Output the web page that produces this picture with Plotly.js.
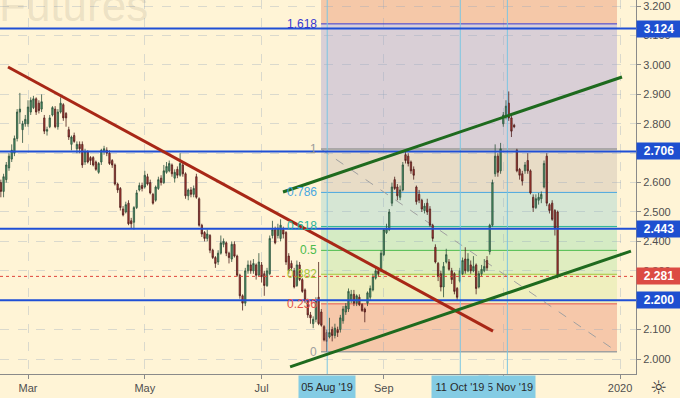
<!DOCTYPE html>
<html><head><meta charset="utf-8">
<script src="https://cdn.plot.ly/plotly-3.0.1.min.js"></script>
<style>html,body{margin:0;padding:0;background:#fff4d6;}#chart{width:680px;height:398px;}</style>
</head><body><div id="chart"></div>
<script>
// ---- data (daily candles, weekdays starting at startDate) ----
const startDate = '2019-02-15';
const opens = [
2.60,2.57,2.61,2.65,2.68,2.70,2.75,2.84,2.78,2.80,
2.80,2.84,2.855,2.885,2.87,2.85,2.82,2.775,2.79,2.83,
2.85,2.79,2.84,2.865,2.835,2.78,2.73,2.76,2.715,2.73,
2.73,2.67,2.705,2.685,2.685,2.67,2.635,2.67,2.705,2.71,
2.70,2.675,2.66,2.595,2.58,2.51,2.50,2.53,2.47,2.465,
2.515,2.575,2.59,2.585,2.62,2.60,2.56,2.54,2.58,2.615,
2.60,2.635,2.64,2.66,2.615,2.645,2.625,2.66,2.63,2.555,
2.575,2.56,2.62,2.545,2.455,2.43,2.41,2.42,2.37,2.345,
2.33,2.36,2.39,2.395,2.36,2.34,2.39,2.35,2.285,2.215,
2.19,2.30,2.32,2.30,2.32,2.285,2.32,2.29,2.25,2.29,
2.42,2.44,2.42,2.41,2.44,2.43,2.35,2.325,2.30,2.25,
2.32,2.27,2.235,2.20,2.15,2.12,2.135,2.21,2.16,2.11,
2.09,2.075,2.10,2.08,2.10,2.10,2.13,2.16,2.17,2.20,
2.22,2.19,2.21,2.185,2.17,2.19,2.21,2.235,2.275,2.30,
2.30,2.355,2.43,2.44,2.53,2.61,2.585,2.55,2.575,2.695,
2.69,2.67,2.645,2.585,2.56,2.54,2.505,2.53,2.51,2.455,
2.38,2.325,2.29,2.245,2.33,2.33,2.30,2.29,2.24,2.265,
2.29,2.34,2.30,2.32,2.30,2.32,2.245,2.29,2.30,2.335,
2.365,2.455,2.63,2.69,2.64,2.80,2.825,2.87,2.82,2.795,
2.71,2.645,2.63,2.64,2.675,2.64,2.55,2.515,2.54,2.545,
2.585,2.69,2.525,2.53,2.505,2.50];
const highs = [
2.61,2.63,2.67,2.70,2.73,2.76,2.85,2.905,2.81,2.83,
2.88,2.89,2.895,2.89,2.88,2.90,2.83,2.79,2.83,2.86,
2.86,2.85,2.89,2.87,2.84,2.79,2.76,2.77,2.74,2.74,
2.74,2.715,2.71,2.69,2.69,2.675,2.67,2.715,2.725,2.72,
2.71,2.68,2.665,2.60,2.585,2.52,2.535,2.54,2.48,2.52,
2.575,2.60,2.60,2.64,2.63,2.61,2.565,2.59,2.62,2.625,
2.66,2.67,2.675,2.665,2.645,2.655,2.70,2.67,2.635,2.58,
2.585,2.59,2.63,2.55,2.46,2.435,2.44,2.425,2.375,2.35,
2.37,2.42,2.41,2.40,2.365,2.40,2.40,2.355,2.29,2.22,
2.31,2.335,2.335,2.34,2.325,2.36,2.33,2.30,2.31,2.42,
2.47,2.45,2.46,2.475,2.45,2.435,2.36,2.335,2.31,2.335,
2.33,2.275,2.24,2.205,2.16,2.145,2.21,2.33,2.17,2.115,
2.10,2.14,2.11,2.12,2.11,2.15,2.18,2.19,2.24,2.235,
2.235,2.22,2.22,2.19,2.175,2.23,2.25,2.29,2.31,2.31,
2.37,2.445,2.46,2.51,2.60,2.62,2.595,2.59,2.67,2.71,
2.70,2.675,2.655,2.59,2.575,2.545,2.53,2.545,2.52,2.46,
2.39,2.33,2.30,2.33,2.375,2.34,2.31,2.295,2.245,2.31,
2.345,2.38,2.36,2.335,2.35,2.325,2.30,2.32,2.34,2.35,
2.46,2.61,2.73,2.70,2.735,2.84,2.88,2.91,2.83,2.80,
2.715,2.65,2.64,2.67,2.70,2.645,2.56,2.56,2.565,2.57,
2.675,2.70,2.53,2.54,2.51,2.505];
const lows = [
2.55,2.55,2.60,2.64,2.67,2.69,2.74,2.80,2.735,2.79,
2.79,2.83,2.85,2.83,2.835,2.84,2.765,2.76,2.785,2.825,
2.785,2.78,2.835,2.81,2.79,2.745,2.71,2.735,2.70,2.70,
2.65,2.66,2.665,2.66,2.655,2.64,2.63,2.66,2.695,2.69,
2.66,2.65,2.59,2.565,2.505,2.485,2.495,2.455,2.445,2.44,
2.51,2.57,2.57,2.58,2.59,2.56,2.525,2.535,2.575,2.59,
2.595,2.63,2.635,2.62,2.60,2.615,2.62,2.62,2.545,2.54,
2.55,2.55,2.545,2.45,2.415,2.40,2.40,2.36,2.34,2.31,
2.32,2.355,2.38,2.35,2.325,2.33,2.345,2.28,2.205,2.165,
2.18,2.29,2.29,2.29,2.27,2.28,2.26,2.215,2.245,2.285,
2.41,2.39,2.41,2.40,2.41,2.32,2.29,2.30,2.24,2.245,
2.265,2.225,2.19,2.14,2.12,2.105,2.125,2.115,2.11,2.06,
2.025,2.07,2.06,2.07,2.075,2.09,2.12,2.15,2.16,2.19,
2.18,2.18,2.18,2.16,2.125,2.18,2.20,2.23,2.27,2.28,
2.295,2.35,2.425,2.435,2.52,2.575,2.54,2.54,2.57,2.665,
2.655,2.63,2.61,2.525,2.53,2.50,2.495,2.49,2.45,2.40,
2.325,2.265,2.23,2.21,2.325,2.30,2.255,2.22,2.20,2.26,
2.285,2.29,2.295,2.29,2.295,2.22,2.24,2.28,2.295,2.30,
2.355,2.45,2.62,2.62,2.63,2.79,2.815,2.81,2.755,2.785,
2.635,2.61,2.59,2.63,2.63,2.56,2.50,2.51,2.525,2.53,
2.58,2.52,2.495,2.47,2.42,2.275];
const closes = [
2.57,2.62,2.66,2.69,2.71,2.75,2.84,2.85,2.80,2.815,
2.857,2.88,2.885,2.84,2.845,2.875,2.775,2.78,2.82,2.855,
2.79,2.84,2.87,2.82,2.82,2.755,2.755,2.74,2.73,2.715,
2.66,2.705,2.67,2.675,2.66,2.645,2.665,2.71,2.715,2.70,
2.665,2.66,2.595,2.575,2.515,2.49,2.525,2.46,2.46,2.515,
2.565,2.59,2.58,2.625,2.595,2.565,2.53,2.585,2.61,2.60,
2.64,2.655,2.665,2.63,2.635,2.625,2.665,2.63,2.555,2.575,
2.56,2.58,2.55,2.455,2.425,2.41,2.425,2.37,2.345,2.325,
2.36,2.395,2.40,2.36,2.345,2.39,2.35,2.285,2.215,2.19,
2.30,2.32,2.30,2.325,2.285,2.33,2.28,2.25,2.30,2.41,
2.44,2.395,2.445,2.455,2.425,2.33,2.30,2.31,2.245,2.32,
2.27,2.23,2.20,2.15,2.14,2.135,2.20,2.12,2.115,2.065,
2.06,2.09,2.08,2.105,2.09,2.14,2.17,2.18,2.23,2.22,
2.19,2.215,2.185,2.165,2.16,2.225,2.24,2.28,2.30,2.29,
2.36,2.44,2.445,2.50,2.585,2.58,2.555,2.575,2.66,2.675,
2.665,2.64,2.625,2.535,2.54,2.51,2.52,2.50,2.455,2.41,
2.33,2.28,2.245,2.315,2.355,2.305,2.27,2.23,2.21,2.30,
2.335,2.30,2.34,2.30,2.315,2.24,2.29,2.305,2.315,2.31,
2.455,2.60,2.69,2.635,2.715,2.83,2.86,2.82,2.775,2.79,
2.64,2.625,2.605,2.66,2.64,2.565,2.515,2.545,2.55,2.56,
2.665,2.53,2.505,2.475,2.445,2.281];

const tickDates  = ['2019-03-01','2019-05-01','2019-07-01','2019-09-02','2019-11-01','2020-01-01'];
const tickLabels = ['Mar','May','Jul','Sep','Nov','2020'];
const levelPrices = [3.124, 2.706, 2.443, 2.200];
const lastPrice = 2.281;
const fibRatios = [0, 0.236, 0.382, 0.5, 0.618, 0.786, 1, 1.618, 2.618];
const fibNames  = ['0','0.236','0.382','0.5','0.618','0.786','1','1.618','2.618'];
const fibLow = 2.025, fibHigh = 2.714;
const fibStart = '2019-07-30 21:30', fibEnd = '2019-12-30 21:00';
const markDates  = ['2019-08-04 04:00','2019-10-10 04:00','2019-11-04 12:00'];
const markLabels = ["05 Aug '19","11 Oct '19","05 Nov '19"];
const redTrend   = {x:['2019-02-19 15:20','2019-10-28 05:00'], y:[2.993, 2.095]};
const greenUpper = {x:['2019-07-10 21:30','2020-01-01 17:00'], y:[2.568, 2.959]};
const greenLower = {x:['2019-07-15 12:00','2020-01-07 00:00'], y:[1.973, 2.367]};

// ---- styles ----
const BG = '#fff4d6';
const fibLineColors = ['#a0a0a0','#e5534b','#a5c83c','#4cbb4c','#2bb39a','#4aa8e0','#9a9a9a','#3838d0','#e5534b'];
const fibFillColors = ['#f6c8aa','#efefbe','#dfedc0','#d5ebc4','#d6e6d4','#e8dcc6','#d9cfd6','#f5c8a8'];

function weekdayDates(start, n){
  const out=[]; const d=new Date(start+'T00:00:00Z');
  while(out.length<n){const w=d.getUTCDay(); if(w!==0&&w!==6) out.push(d.toISOString().slice(0,10)); d.setUTCDate(d.getUTCDate()+1);}
  return out;
}
const dates = weekdayDates(startDate, closes.length);

const trace = {
  type:'candlestick', x:dates, open:opens, high:highs, low:lows, close:closes,
  increasing:{line:{color:'#2d513c', width:0.8}, fillcolor:'#4a9a6a'},
  decreasing:{line:{color:'#4e1e1c', width:0.8}, fillcolor:'#b83a34'},
  whiskerwidth:0, hoverinfo:'skip', showlegend:false
};

const shapes = [];
const annotations = [];
const fibPrice = r => fibLow + r*(fibHigh-fibLow);
for(let k=0;k<fibRatios.length-1;k++){
  shapes.push({type:'rect', layer:'below', xref:'x', yref:'y', x0:fibStart, x1:fibEnd,
    y0:fibPrice(fibRatios[k]), y1:fibPrice(fibRatios[k+1]), fillcolor:fibFillColors[k], line:{width:0}});
}
for(let k=0;k<fibRatios.length;k++){
  const p = fibPrice(fibRatios[k]);
  shapes.push({type:'line', layer:'between', x0:fibStart, x1:fibEnd, y0:p, y1:p,
    line:{color:fibLineColors[k], width: (fibRatios[k]===1||fibRatios[k]===0)?1.5:1}});
  if(p < 3.22) annotations.push({xref:'x', yref:'y', x:fibStart, y:p, text:fibNames[k], showarrow:false,
    xanchor:'right', yanchor:'middle', xshift:-2, font:{family:'Liberation Sans', size:12, color:fibLineColors[k]}});
}
shapes.push({type:'line', layer:'between', x0:fibStart, x1:fibEnd, y0:fibHigh, y1:fibLow,
  line:{color:'#a0a0a0', width:1, dash:'dash'}});
markDates.forEach(d=>shapes.push({type:'line', layer:'above', xref:'x', yref:'paper', x0:d, x1:d, y0:0, y1:1,
  line:{color:'#7cc6e2', width:1}}));
levelPrices.forEach(p=>shapes.push({type:'line', xref:'paper', yref:'y', x0:0, x1:1, y0:p, y1:p,
  line:{color:'#1f4fd6', width:2}}));
shapes.push({type:'line', xref:'paper', yref:'y', x0:0, x1:1, y0:lastPrice, y1:lastPrice,
  line:{color:'#e0453c', width:1, dash:'dot'}});
[[redTrend,'#a82716'],[greenUpper,'#1e6a1e'],[greenLower,'#1e6a1e']].forEach(([t,c])=>
  shapes.push({type:'line', x0:t.x[0], x1:t.x[1], y0:t.y[0], y1:t.y[1], line:{color:c, width:3}}));

levelPrices.forEach(p=>annotations.push({xref:'paper', yref:'y', x:1, y:p, xanchor:'left', yanchor:'middle',
  xshift:0, text:'<b>'+p.toFixed(3)+'</b>', showarrow:false, bgcolor:'#1e4fd0', width:42, height:14, borderpad:1,
  font:{family:'Liberation Sans', size:12, color:'#ffffff'}}));
annotations.push({xref:'paper', yref:'y', x:1, y:lastPrice, xanchor:'left', yanchor:'middle',
  text:'<b>'+lastPrice.toFixed(3)+'</b>', showarrow:false, bgcolor:'#dc4b43', width:42, height:14, borderpad:1,
  font:{family:'Liberation Sans', size:12, color:'#ffffff'}});
// later labels first so earlier ones sit on top where they overlap
for(let i=markDates.length-1;i>=0;i--){
  annotations.push({xref:'x', yref:'paper', x:markDates[i], y:0, xanchor:'center', yanchor:'top',
    yshift:-1, text:markLabels[i], showarrow:false, bgcolor:'#84cce4', width:54, height:20, borderpad:1,
    font:{family:'Liberation Sans', size:11, color:'#2a2a2a'}});
}
annotations.push({xref:'paper', yref:'paper', x:0, y:1, xanchor:'left', yanchor:'bottom', yshift:-32, xshift:-3,
  text:'Futures', showarrow:false, font:{family:'Liberation Sans', size:44, color:'rgba(140,130,110,0.17)'}});
annotations.push({xref:'paper', yref:'paper', x:1, y:0, xanchor:'center', yanchor:'middle', xshift:22, yshift:-13,
  text:'☼', showarrow:false, font:{family:'DejaVu Sans', size:19, color:'#333'}});

const axisFont = {family:'Liberation Sans', size:11, color:'#4f4f4f'};
const layout = {
  width:680, height:398, paper_bgcolor:BG, plot_bgcolor:BG,
  margin:{l:0, r:44, t:0, b:24},
  showlegend:false,
  xaxis:{type:'date', range:['2019-02-14 16:30','2020-01-08 20:40'], rangebreaks:[{bounds:['sat','mon']}],
    rangeslider:{visible:false}, tickmode:'array', tickvals:tickDates, ticktext:tickLabels,
    ticks:'outside', ticklen:4, tickcolor:'#8a8a8a', showline:true, linecolor:'#8a8a8a', linewidth:1,
    showgrid:true, gridcolor:'rgba(150,165,190,0.35)', griddash:'dash', zeroline:false, tickfont:axisFont},
  yaxis:{side:'right', range:[1.949, 3.221], tick0:2, dtick:0.1, tickformat:'.3f',
    ticks:'outside', ticklen:4, tickcolor:'#8a8a8a', showline:true, linecolor:'#8a8a8a', linewidth:1,
    showgrid:true, gridcolor:'rgba(150,165,190,0.35)', griddash:'dash', zeroline:false, tickfont:axisFont},
  shapes:shapes, annotations:annotations
};
Plotly.newPlot('chart',[trace],layout,{staticPlot:true, displayModeBar:false});
</script></body></html>
